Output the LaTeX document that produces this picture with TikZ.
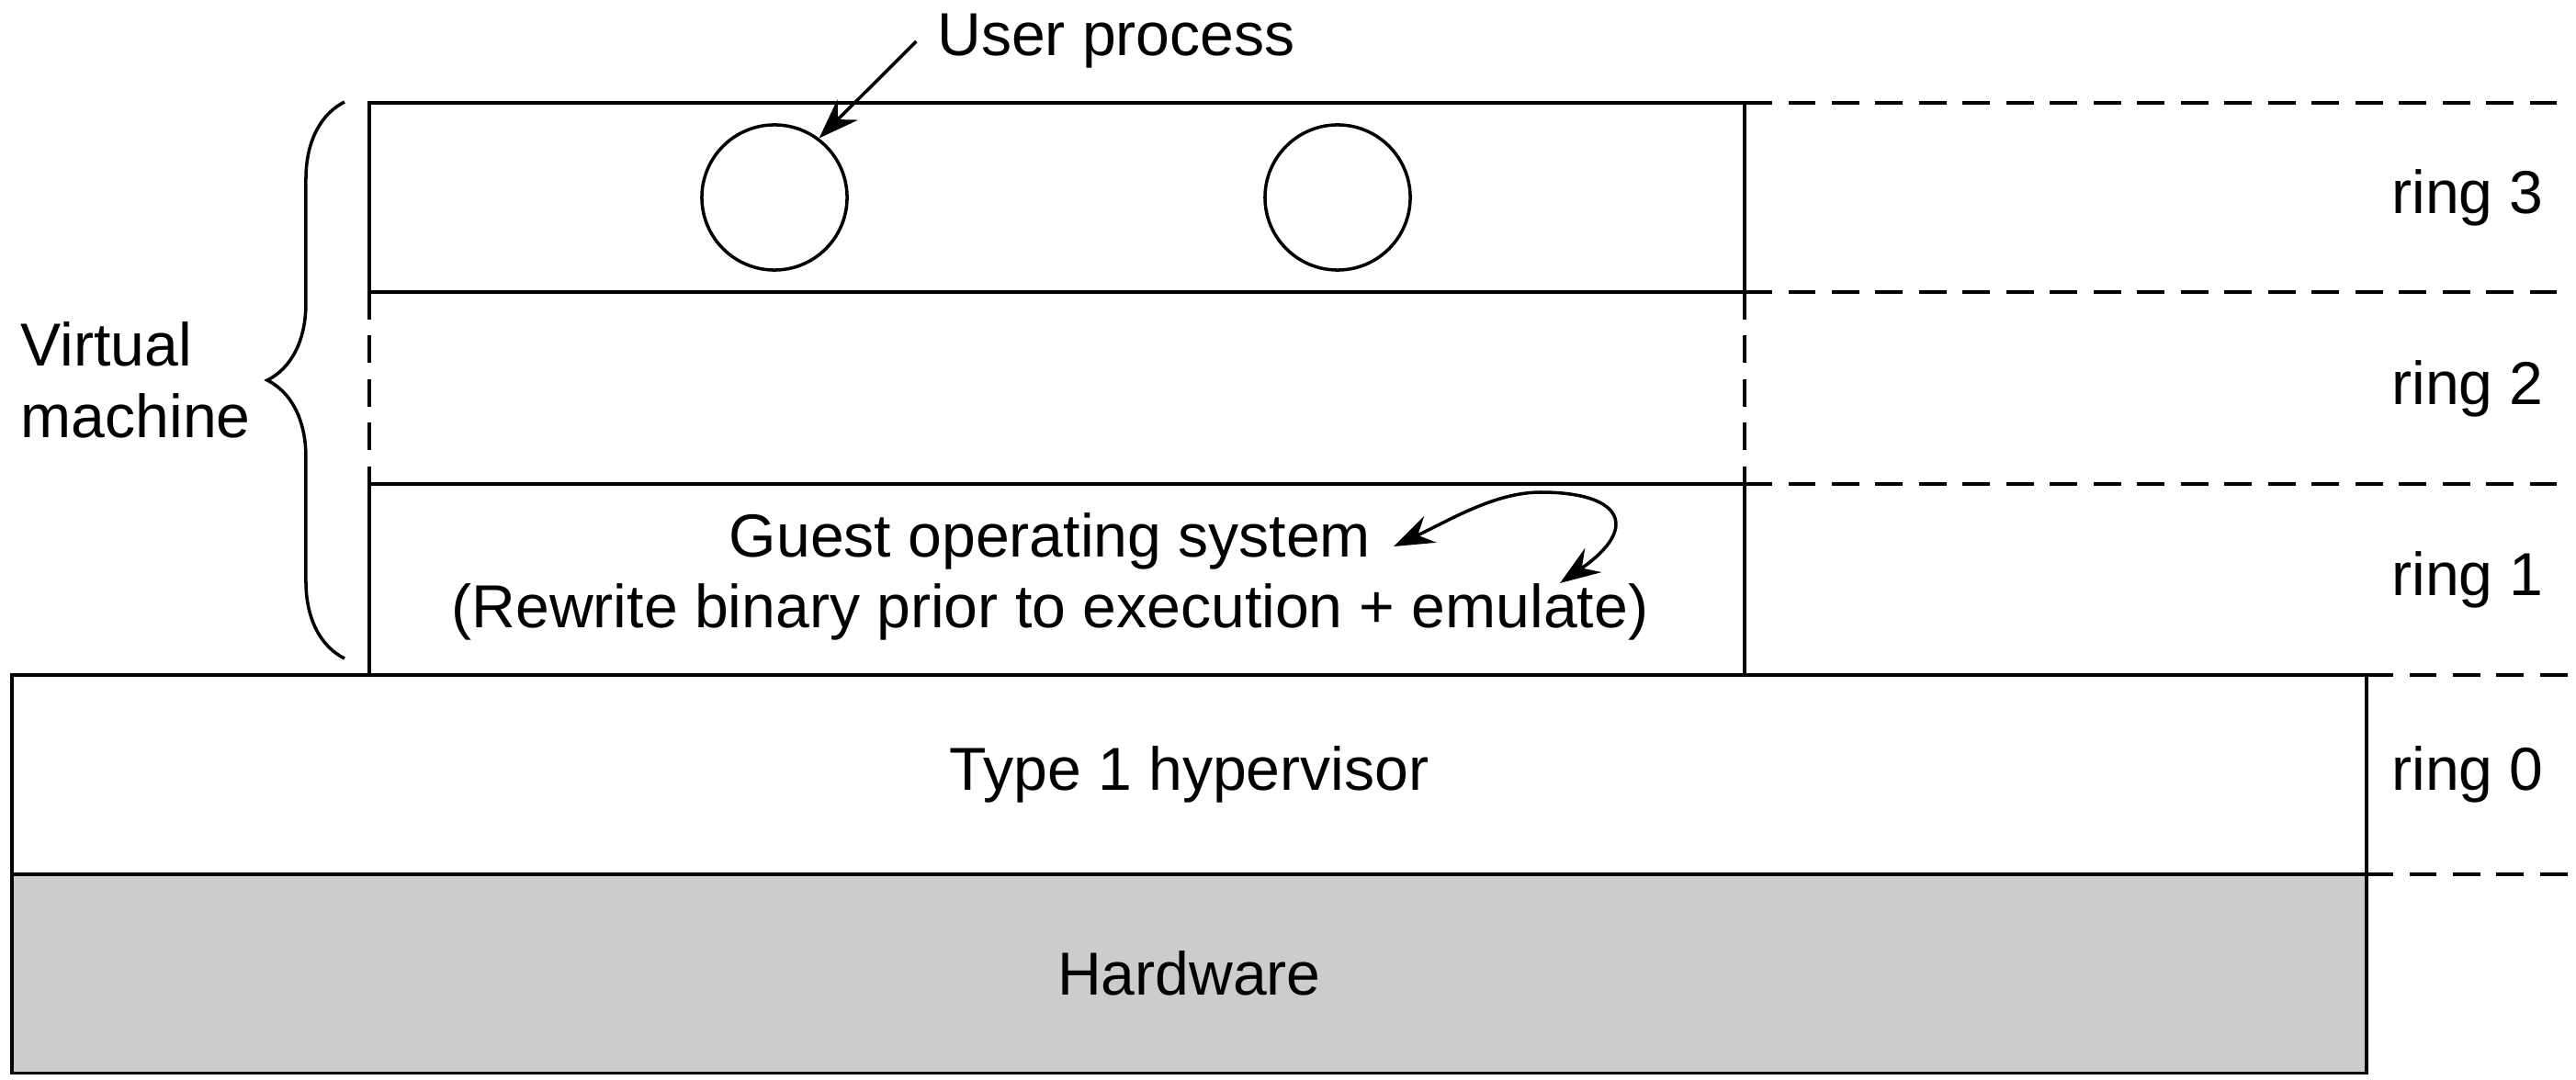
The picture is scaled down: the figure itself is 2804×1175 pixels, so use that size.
\documentclass[tikz,border=0pt]{standalone}
\usepackage{fontspec}
\setmainfont{Liberation Sans}
\usetikzlibrary{arrows.meta,decorations.pathreplacing}
\definecolor{hwgray}{gray}{0.8}

\begin{document}
\begin{tikzpicture}[x=0.01cm, y=0.01cm, line width=1pt,
    font=\fontsize{18.8}{22}\selectfont,
    txt/.style={inner sep=6pt},
    layer/.style={draw, minimum width=25.61cm, minimum height=2.17cm, inner sep=0pt},
    proc/.style={draw, circle, minimum size=1.58cm, inner sep=0pt},
    ringline/.style={dash pattern=on 8.5pt off 5pt},
    tip/.style={-{Stealth[length=12.5pt, width=9pt, inset=4.3pt]}},
    bothtips/.style={{Stealth[length=12.5pt, width=9pt, inset=4.3pt]}-{Stealth[length=12.5pt, width=9pt, inset=4.3pt]}}]
      \useasboundingbox (0,0) rectangle (2804,1175);
      % hardware and hypervisor
      \node[layer, fill=hwgray] (hw) at (1294.5,115) {Hardware};
      \node[layer] (hyp) at (1294.5,331.5) {Type 1 hypervisor};
      % virtual machine
      \draw (402,857) -- (402,1063) -- (1899,1063) -- (1899,857);
      \draw (402,857) -- (1899,857);
      \draw (402,648) -- (1899,648);
      \draw (402,648) -- (402,440);
      \draw (1899,648) -- (1899,440);
      \draw[ringline] (402,857) -- (402,648);
      \draw[ringline] (1899,857) -- (1899,648);
      % ring boundaries
      \draw[ringline] (1899,1063) -- (2800,1063);
      \draw[ringline] (1899,857) -- (2800,857);
      \draw[ringline] (1899,648) -- (2800,648);
      \draw[ringline] (2575,440) -- (2800,440);
      \draw[ringline] (2575,223) -- (2800,223);
      \node[txt] (r3) at (2686,960) {ring 3};
      \node[txt] (r2) at (2686,752) {ring 2};
      \node[txt] (r1) at (2686,544) {ring 1};
      \node[txt] (r0) at (2686,332) {ring 0};
      % processes
      \node[proc] (p1) at (843,960) {};
      \node[proc] (p2) at (1456,960) {};
      \node[txt] (up) at (1215,1130) {User process};
      \draw[tip] (up.west) -- (p1.53);
      % guest os
      \node[txt, align=center] (guest) at (1143,547) {Guest operating system\\(Rewrite binary prior to execution + emulate)};
      \coordinate (g1) at (1517,580);
      \coordinate (g2) at (1698,540);
      \draw[bothtips] (g1) .. controls (1577,608) and (1627,639) .. (1677,639)
        .. controls (1767,639) and (1785,600) .. (g2);
      % brace
      \coordinate (vmbot) at (375,458);
      \coordinate (vmtop) at (375,1064);
      \draw[decorate, decoration={brace, amplitude=0.84cm}] (vmbot) -- (vmtop);
      \node[txt, anchor=west, align=left] (vm) at (0,761) {Virtual\\machine};
    \end{tikzpicture}
\end{document}
